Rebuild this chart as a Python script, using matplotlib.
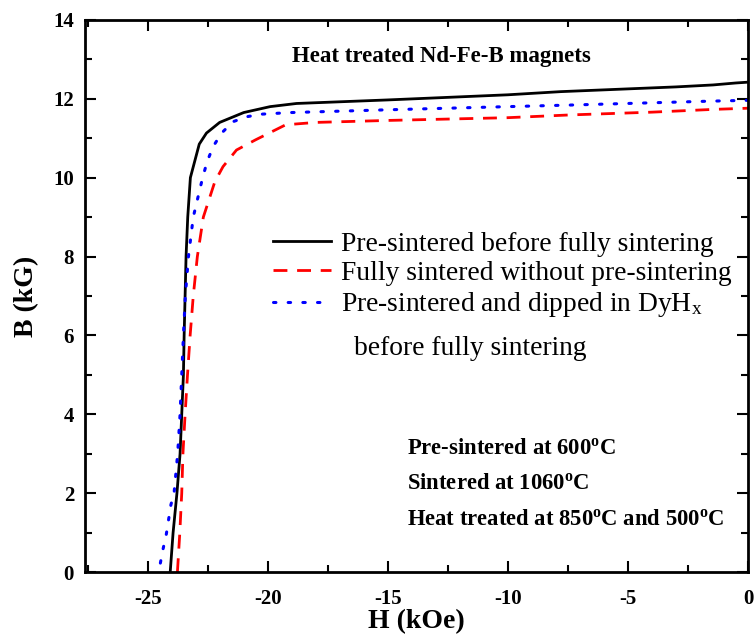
import numpy as np
import matplotlib
matplotlib.use('Agg')
import matplotlib.pyplot as plt
from matplotlib.ticker import MultipleLocator

plt.rcParams['font.family'] = ['Liberation Serif', 'DejaVu Serif']
plt.rcParams['mathtext.fontset'] = 'custom'
plt.rcParams['mathtext.rm'] = 'Liberation Serif'
plt.rcParams['mathtext.it'] = 'Liberation Serif:italic'
plt.rcParams['mathtext.bf'] = 'Liberation Serif:bold'
plt.rcParams['axes.unicode_minus'] = False

# 读图估计的退磁曲线数据 (H in kOe, B in kG)
H_pre = [-24.06, -23.94, -23.78, -23.65, -23.58, -23.51, -23.48, -23.44, -23.40, -23.33,
         -23.22, -22.85, -22.55, -22.0, -21.0, -19.9, -18.8, -15.0, -10.0, -7.8, -5.0,
         -3.0, -1.45, -0.5, 0.0]
B_pre = [0.0, 1.0, 2.0, 3.0, 4.0, 5.0, 6.0, 7.0, 8.0, 9.0,
         10.0, 10.85, 11.13, 11.4, 11.65, 11.8, 11.88, 11.97, 12.1, 12.18, 12.25,
         12.3, 12.35, 12.4, 12.42]

H_full = [-23.76, -23.66, -23.58, -23.53, -23.44, -23.34, -23.23, -23.1, -22.93, -22.68,
          -22.2, -21.86, -21.3, -20.5, -19.25, -18.0, -15.0, -10.0, -7.4, -4.0, -1.45, 0.0]
B_full = [0.0, 1.0, 2.0, 3.0, 4.0, 5.0, 6.0, 7.0, 8.0, 9.0,
          9.9, 10.28, 10.7, 10.96, 11.34, 11.4, 11.45, 11.52, 11.59, 11.66, 11.73, 11.76]

H_dy = [-24.47, -24.36, -24.22, -24.03, -23.9, -23.75, -23.65, -23.58, -23.51, -23.43,
        -23.3, -23.1, -22.71, -22.52, -22.27, -21.92, -21.44, -20.82, -20.23, -19.65,
        -19.03, -15.0, -10.0, -7.4, -1.5, 0.0]
B_dy = [0.23, 0.58, 0.97, 1.71, 2.0, 3.0, 4.0, 5.0, 6.0, 7.0,
        8.0, 9.0, 10.0, 10.41, 10.79, 11.13, 11.42, 11.55, 11.61, 11.63,
        11.65, 11.72, 11.8, 11.84, 11.94, 11.96]

labels = ['Pre-sintered before fully sintering',
          'Fully sintered without pre-sintering',
          'Pre-sintered and dipped in DyH$_\\mathregular{x}$']
label_cont = 'before fully sintering'

notes = [r'Pre-sintered at 600$^\mathbf{o}$C',
         r'Sintered at 1060$^\mathbf{o}$C',
         r'Heat treated at 850$^\mathbf{o}$C and 500$^\mathbf{o}$C']

fig = plt.figure(figsize=(7.54, 6.4), dpi=100)
ax = fig.add_axes([0.113, 0.106, 0.879, 0.863])

ax.plot(H_pre, B_pre, color='black', lw=2.0, ls='-', label=labels[0])
ax.plot(H_full, B_full, color='red', lw=2.0, ls=(0, (5, 3.5)), label=labels[1])
ax.plot(H_dy, B_dy, color='blue', lw=2.2, ls=(0, (0.8, 4)), dash_capstyle='round',
        label=labels[2])

ax.set_xlim(-27.6, 0)
ax.set_ylim(0, 14)
ax.xaxis.set_major_locator(MultipleLocator(5))
ax.xaxis.set_minor_locator(MultipleLocator(2.5))
ax.yaxis.set_major_locator(MultipleLocator(2))
ax.yaxis.set_minor_locator(MultipleLocator(1))
ax.tick_params(which='both', direction='in', top=True, right=True, width=1.5)
ax.tick_params(which='major', length=8, labelsize=15)
ax.tick_params(axis='x', which='major', pad=12)
ax.tick_params(axis='y', which='major', pad=8)
ax.tick_params(which='minor', length=5)
for lab in ax.get_xticklabels() + ax.get_yticklabels():
    lab.set_fontweight('bold')
for sp in ax.spines.values():
    sp.set_linewidth(2)

ax.set_xlabel('H (kOe)', fontsize=20, fontweight='bold', labelpad=0)
ax.set_ylabel('B (kG)', fontsize=20, fontweight='bold', labelpad=10)

ax.text(-12.75, 13.06, 'Heat treated Nd-Fe-B magnets', fontsize=16.5,
        fontweight='bold', ha='center', va='center')

leg = ax.legend(loc='upper left', bbox_to_anchor=(0.284, 0.617), frameon=False,
                borderpad=0, borderaxespad=0, fontsize=19.8, handlelength=2.1,
                handletextpad=0.35, labelspacing=0.15)
ax.text(-16.39, 5.68, label_cont, fontsize=19.8, ha='left', va='center')

for i, s in enumerate(notes):
    ax.text(-14.2, 3.14 - i * 0.9, s, fontsize=16.3, fontweight='bold',
            ha='left', va='center')

fig.savefig('out.png', dpi=100)
